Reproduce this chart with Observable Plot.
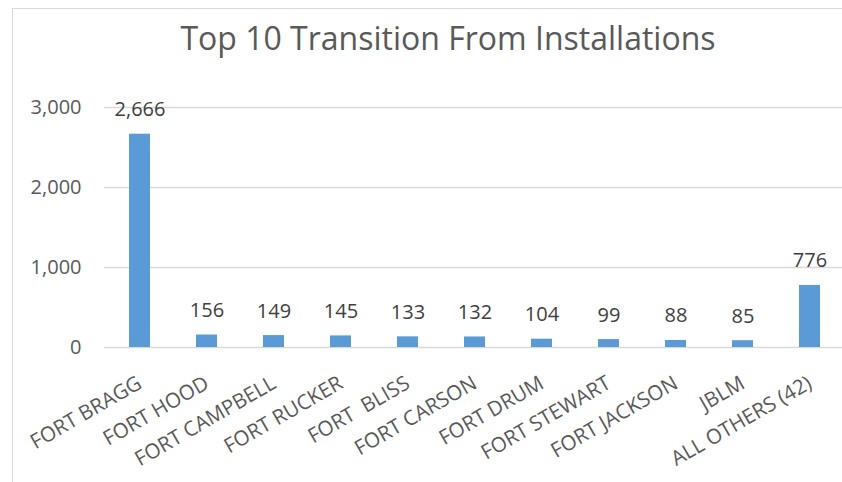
<!DOCTYPE html>
<html>
<head>
<meta charset="utf-8">
<script src="https://cdn.jsdelivr.net/npm/d3@7"></script>
<script src="https://cdn.jsdelivr.net/npm/@observablehq/plot@0.6"></script>
<style>
  body { margin: 0; background: #fff; }
  #wrap { position: relative; width: 842px; height: 482px; overflow: hidden; font-family: "Open Sans", sans-serif; }
  #frame { position: absolute; left: 12px; top: 8px; width: 900px; height: 600px; border-left: 1.5px solid #d9d9d9; border-top: 1.5px solid #d9d9d9; }
  #title { position: absolute; left: 0; top: 22px; width: 896px; text-align: center; font-size: 32px; line-height: 32px; color: #595959; white-space: nowrap; }
  #chart { position: absolute; left: 0; top: 0; }
  svg text { white-space: pre; }
</style>
</head>
<body>
<div id="wrap">
  <div id="frame"></div>
  <div id="chart"></div>
  <div id="title">Top 10 Transition From Installations</div>
</div>
<script>
const categories = ["FORT BRAGG", "FORT HOOD", "FORT CAMPBELL", "FORT RUCKER", "FORT  BLISS", "FORT CARSON", "FORT DRUM", "FORT STEWART", "FORT JACKSON", "JBLM", "ALL OTHERS (42)"];
const values = [2666, 156, 149, 145, 133, 132, 104, 99, 88, 85, 776];
const yTicks = [0, 1000, 2000, 3000];

const data = categories.map((name, i) => ({name, value: values[i]}));
const fmt = d3.format(",");

const chart = Plot.plot({
  width: 842,
  height: 482,
  marginTop: 107,
  marginBottom: 135,
  marginLeft: 104,
  marginRight: 0,
  style: {fontFamily: "Open Sans, sans-serif", fontSize: "20px", color: "#595959", background: "transparent"},
  x: {domain: categories, range: [104, 844], paddingInner: 0.69, paddingOuter: 0.345, label: null},
  y: {domain: [0, 3000], label: null},
  marks: [
    Plot.ruleY(yTicks, {stroke: "#d9d9d9", strokeWidth: 1.5}),
    Plot.barY(data, {x: "name", y: "value", fill: "#5B9BD5"}),
    Plot.text(data, {x: "name", y: "value", text: d => fmt(d.value), lineAnchor: "bottom", dy: -18, fontSize: 20, fill: "#404040"}),
    Plot.axisY(yTicks, {tickSize: 0, tickPadding: 23, tickFormat: fmt, fontSize: 20, label: null}),
    Plot.axisX({tickSize: 0, tickPadding: 34, tickRotate: -30, fontSize: 20.5, label: null})
  ]
});
document.getElementById("chart").appendChild(chart);
</script>
</body>
</html>
